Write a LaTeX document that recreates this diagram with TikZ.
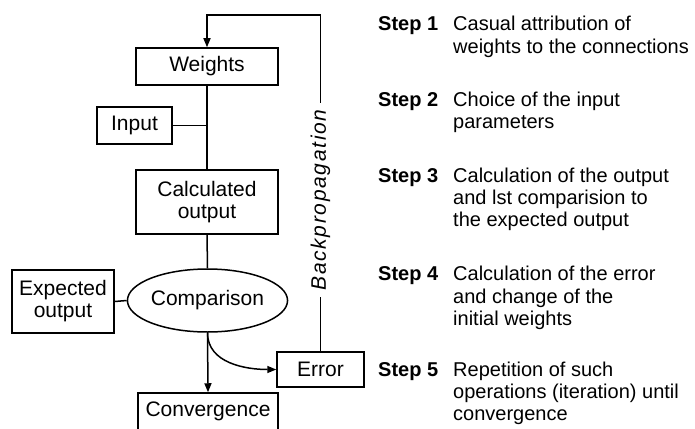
\documentclass[tikz,border=0pt]{standalone}
\usepackage{fontspec}
\setmainfont{Liberation Sans}
\newfontface\bpfont[LetterSpace=8]{Liberation Sans Italic}
\usetikzlibrary{shapes.geometric,arrows.meta}

\tikzset{
  boxtxt/.style={font=\fontsize{21}{22}\selectfont},
  steptxt/.style={font=\fontsize{20}{22}\selectfont},
  box/.style={boxtxt, draw, line width=1.5pt, inner sep=0pt, align=center},
  link/.style={line width=1.5pt},
  arr/.style={line width=1.5pt, -{Triangle[length=9pt,width=7pt]}},
  stepno/.style={anchor=base west, inner sep=0pt, font=\fontsize{20}{22}\selectfont\bfseries},
  stepdesc/.style={steptxt, anchor=base west, inner sep=0pt},
}

\begin{document}
\begin{tikzpicture}[x=1pt, y=-1pt]
  \clip (0,0) rectangle (695,428);
  \useasboundingbox (0,0) rectangle (695,428);

  % flow chart boxes
  \node[box, minimum width=142pt, minimum height=37pt] (w) at (207,66.5) {Weights};
  \node[box, minimum width=75pt, minimum height=37pt] (in) at (134.5,125.5) {Input};
  \node[box, minimum width=142pt, minimum height=64pt] (calc) at (207,202) {Calculated\\output};
  \node[box, ellipse, minimum width=141pt, minimum height=63pt] (cmp) at (207.5,300.5) {Comparison};
  \node[box, minimum width=102pt, minimum height=63pt] (exp) at (63,301.5) {Expected\\output};
  \node[box, minimum width=87pt, minimum height=35pt] (err) at (320.5,369.5) {Error};
  \node[box, minimum width=140pt, minimum height=37pt] (conv) at (208,411.5) {Convergence};

  % connectors
  \draw[link] (w.south) -- (calc.north);
  \draw[link] (in.east) -- (in.east -| w.south);
  \draw[link] (calc.south) -- (cmp.north);
  \draw[link] (exp.east) -- (cmp.west);
  \draw[arr] (cmp.south) -- (conv.north);
  \draw[arr] (cmp.south) to[out=-90, in=180] (err.west);

  % feedback loop
  \coordinate (top) at (321,15);
  \draw[arr] (err.north) -- (err.north |- top) -| (w.north);
  \node[rotate=90, fill=white, inner xsep=6pt, inner ysep=1pt] (bp) at (320.5,200)
    {\fontsize{21}{22}\bpfont Backpropagation};

  % procedure steps
  \node[stepno] (s1) at (378,31) {Step 1};
  \node[stepdesc] (d1a) at (453,31) {Casual attribution of};
  \node[stepdesc] (d1b) at (453,53) {weights to the connections};

  \node[stepno] (s2) at (378,106) {Step 2};
  \node[stepdesc] (d2a) at (453,106) {Choice of the input};
  \node[stepdesc] (d2b) at (453,128) {parameters};

  \node[stepno] (s3) at (378,182) {Step 3};
  \node[stepdesc] (d3a) at (453,182) {Calculation of the output};
  \node[stepdesc] (d3b) at (453,204) {and lst comparision to};
  \node[stepdesc] (d3c) at (453,226) {the expected output};

  \node[stepno] (s4) at (378,280) {Step 4};
  \node[stepdesc] (d4a) at (453,280) {Calculation of the error};
  \node[stepdesc] (d4b) at (453,303) {and change of the};
  \node[stepdesc] (d4c) at (453,325) {initial weights};

  \node[stepno] (s5) at (378,376) {Step 5};
  \node[stepdesc] (d5a) at (453,376) {Repetition of such};
  \node[stepdesc] (d5b) at (453,398) {operations (iteration) until};
  \node[stepdesc] (d5c) at (453,420) {convergence};
\end{tikzpicture}
\end{document}
